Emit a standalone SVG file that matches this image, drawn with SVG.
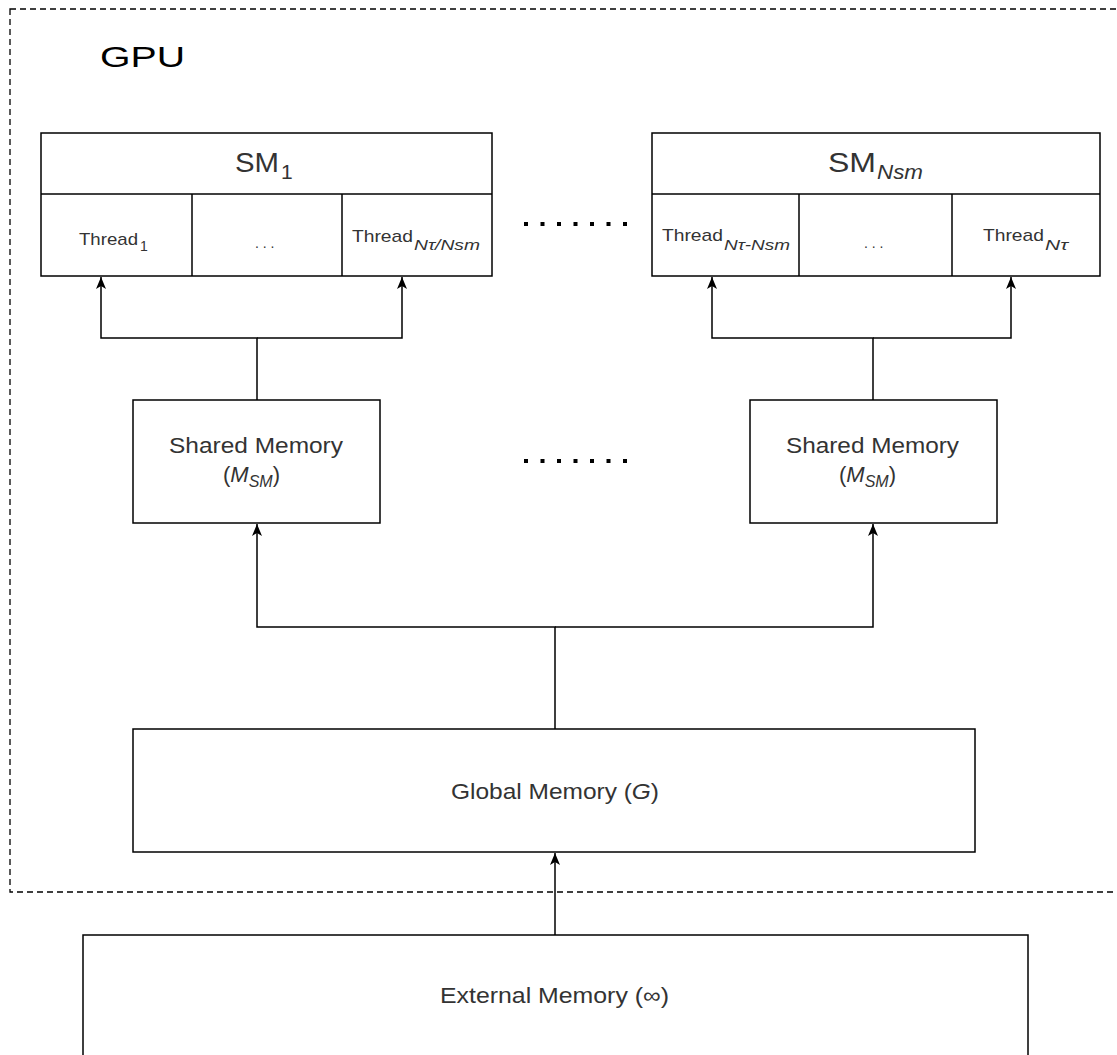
<svg xmlns="http://www.w3.org/2000/svg" width="1117" height="1055" viewBox="0 0 1117 1055">
<style>
.box{fill:#fff;stroke:#000;stroke-width:1.5}
.ln{fill:none;stroke:#000;stroke-width:1.5}
.t{font-family:"Liberation Sans",Arial,sans-serif;fill:#333}
.i{font-style:italic}
.dot{fill:#000}
</style>
<defs>
<marker id="ah" viewBox="0 0 12 10" refX="12" refY="5" markerWidth="12" markerHeight="10" markerUnits="userSpaceOnUse" orient="auto">
<path d="M0,0 L12,5 L0,10 L3,5 Z" fill="#000"/>
</marker>
</defs>
<rect width="1117" height="1055" fill="#fff"/>
<g id="gpu">
<rect x="10" y="9" width="1130" height="883" fill="none" stroke="#000" stroke-width="1.3" stroke-dasharray="6 4"/>
<text class="t" x="100" y="67" font-size="30" style="fill:#000" textLength="85" lengthAdjust="spacingAndGlyphs">GPU</text>
</g>
<g id="sm1">
<rect class="box" x="41" y="133" width="451" height="143"/>
<line class="ln" x1="41" y1="194" x2="492" y2="194"/>
<line class="ln" x1="192" y1="194" x2="192" y2="276"/>
<line class="ln" x1="342" y1="194" x2="342" y2="276"/>
<text class="t" x="235" y="172" font-size="28" textLength="44" lengthAdjust="spacingAndGlyphs">SM</text>
<text class="t" x="281" y="179" font-size="21">1</text>
<text class="t" x="79" y="245" font-size="17" textLength="59" lengthAdjust="spacingAndGlyphs">Thread</text>
<text class="t" x="140" y="251" font-size="14">1</text>
<text class="t" x="255" y="248" font-size="14">. . .</text>
<text class="t" x="352" y="242" font-size="17" textLength="61" lengthAdjust="spacingAndGlyphs">Thread</text>
<text class="t i" x="414" y="250" font-size="14" textLength="66" lengthAdjust="spacingAndGlyphs">Nτ/Nsm</text>
</g>
<g id="smN">
<rect class="box" x="652" y="133" width="448" height="143"/>
<line class="ln" x1="652" y1="194" x2="1100" y2="194"/>
<line class="ln" x1="799" y1="194" x2="799" y2="276"/>
<line class="ln" x1="952" y1="194" x2="952" y2="276"/>
<text class="t" x="828" y="172" font-size="28" textLength="48" lengthAdjust="spacingAndGlyphs">SM</text>
<text class="t i" x="877" y="179" font-size="20" textLength="46" lengthAdjust="spacingAndGlyphs">Nsm</text>
<text class="t" x="662" y="241" font-size="17" textLength="61" lengthAdjust="spacingAndGlyphs">Thread</text>
<text class="t i" x="724" y="250" font-size="14" textLength="66" lengthAdjust="spacingAndGlyphs">Nτ-Nsm</text>
<text class="t" x="864" y="248" font-size="14">. . .</text>
<text class="t" x="983" y="241" font-size="17" textLength="61" lengthAdjust="spacingAndGlyphs">Thread</text>
<text class="t i" x="1045" y="250" font-size="14" textLength="23" lengthAdjust="spacingAndGlyphs">Nτ</text>
</g>
<g id="dots">
<rect class="dot" x="524" y="222" width="4" height="4"/><rect class="dot" x="540.5" y="222" width="4" height="4"/><rect class="dot" x="557" y="222" width="4" height="4"/><rect class="dot" x="573.5" y="222" width="4" height="4"/><rect class="dot" x="590" y="222" width="4" height="4"/><rect class="dot" x="606.5" y="222" width="4" height="4"/><rect class="dot" x="623" y="222" width="4" height="4"/>
<rect class="dot" x="524" y="459" width="4" height="4"/><rect class="dot" x="540.5" y="459" width="4" height="4"/><rect class="dot" x="557" y="459" width="4" height="4"/><rect class="dot" x="573.5" y="459" width="4" height="4"/><rect class="dot" x="590" y="459" width="4" height="4"/><rect class="dot" x="606.5" y="459" width="4" height="4"/><rect class="dot" x="623" y="459" width="4" height="4"/>
</g>
<g id="shared1">
<rect class="box" x="133" y="400" width="247" height="123"/>
<text class="t" x="169" y="453" font-size="22" textLength="174" lengthAdjust="spacingAndGlyphs">Shared Memory</text>
<text class="t" x="223" y="482" font-size="22">(<tspan class="i">M</tspan><tspan class="i" font-size="16" dy="5">SM</tspan><tspan dy="-5">)</tspan></text>
</g>
<g id="sharedN">
<rect class="box" x="750" y="400" width="247" height="123"/>
<text class="t" x="786" y="453" font-size="22" textLength="173" lengthAdjust="spacingAndGlyphs">Shared Memory</text>
<text class="t" x="839" y="482" font-size="22">(<tspan class="i">M</tspan><tspan class="i" font-size="16" dy="5">SM</tspan><tspan dy="-5">)</tspan></text>
</g>
<g id="global">
<rect class="box" x="133" y="729" width="842" height="123"/>
<text class="t" x="451" y="799" font-size="22" textLength="208" lengthAdjust="spacingAndGlyphs">Global Memory (<tspan class="i">G</tspan>)</text>
</g>
<g id="external">
<rect class="box" x="83" y="935" width="945" height="140"/>
<text class="t" x="440" y="1003" font-size="22" textLength="229" lengthAdjust="spacingAndGlyphs">External Memory (∞)</text>
</g>
<g id="connectors">
<path class="ln" d="M257,400 V338 H101 V277" marker-end="url(#ah)"/>
<path class="ln" d="M257,338 H402 V277" marker-end="url(#ah)"/>
<path class="ln" d="M873,400 V338 H712 V277" marker-end="url(#ah)"/>
<path class="ln" d="M873,338 H1011 V277" marker-end="url(#ah)"/>
<path class="ln" d="M555,729 V627 H257 V524" marker-end="url(#ah)"/>
<path class="ln" d="M555,627 H873 V524" marker-end="url(#ah)"/>
<path class="ln" d="M555,935 V853" marker-end="url(#ah)"/>
</g>
</svg>
